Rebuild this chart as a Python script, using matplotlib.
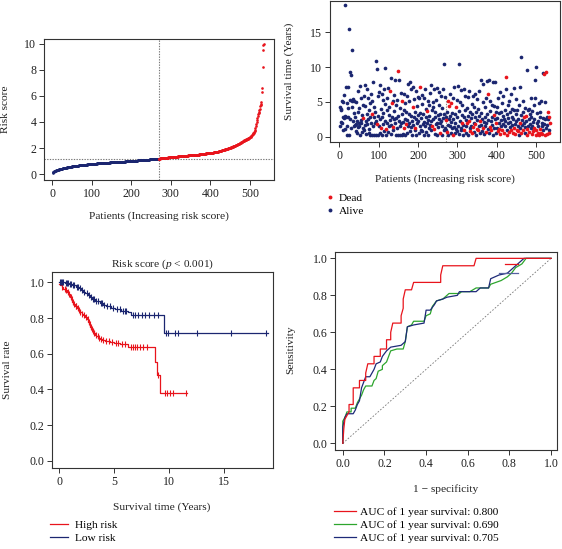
import numpy as np
import matplotlib
matplotlib.use("Agg")
import matplotlib.pyplot as plt
from matplotlib.lines import Line2D

plt.rcParams['font.family'] = ['Liberation Serif', 'DejaVu Serif']
plt.rcParams['mathtext.fontset'] = 'custom'
plt.rcParams['mathtext.rm'] = 'Liberation Serif'
plt.rcParams['mathtext.it'] = 'Liberation Serif:italic'

# ---------------- data ----------------
risk_score = [
    0.10, 0.13, 0.16, 0.18, 0.20, 0.22, 0.24, 0.25, 0.27, 0.28,
    0.29, 0.30, 0.31, 0.32, 0.33, 0.34, 0.35, 0.36, 0.37, 0.38,
    0.39, 0.40, 0.41, 0.42, 0.42, 0.43, 0.44, 0.45, 0.45, 0.46,
    0.47, 0.47, 0.48, 0.49, 0.49, 0.50, 0.51, 0.51, 0.52, 0.52,
    0.53, 0.54, 0.54, 0.55, 0.55, 0.56, 0.56, 0.57, 0.57, 0.58,
    0.58, 0.59, 0.59, 0.60, 0.60, 0.61, 0.61, 0.62, 0.62, 0.63,
    0.63, 0.63, 0.64, 0.64, 0.65, 0.65, 0.66, 0.66, 0.66, 0.67,
    0.67, 0.68, 0.68, 0.68, 0.69, 0.69, 0.70, 0.70, 0.70, 0.71,
    0.71, 0.71, 0.72, 0.72, 0.72, 0.73, 0.73, 0.73, 0.74, 0.74,
    0.74, 0.75, 0.75, 0.75, 0.76, 0.76, 0.76, 0.77, 0.77, 0.77,
    0.77, 0.78, 0.78, 0.78, 0.78, 0.79, 0.79, 0.79, 0.80, 0.80,
    0.80, 0.80, 0.81, 0.81, 0.81, 0.81, 0.82, 0.82, 0.82, 0.82,
    0.83, 0.83, 0.83, 0.83, 0.84, 0.84, 0.84, 0.84, 0.85, 0.85,
    0.85, 0.85, 0.86, 0.86, 0.86, 0.86, 0.87, 0.87, 0.87, 0.87,
    0.88, 0.88, 0.88, 0.88, 0.88, 0.89, 0.89, 0.89, 0.89, 0.90,
    0.90, 0.90, 0.90, 0.90, 0.91, 0.91, 0.91, 0.91, 0.91, 0.92,
    0.92, 0.92, 0.92, 0.92, 0.93, 0.93, 0.93, 0.93, 0.93, 0.94,
    0.94, 0.94, 0.94, 0.94, 0.95, 0.95, 0.95, 0.95, 0.95, 0.96,
    0.96, 0.96, 0.96, 0.96, 0.97, 0.97, 0.97, 0.97, 0.97, 0.98,
    0.98, 0.98, 0.98, 0.98, 0.99, 0.99, 0.99, 0.99, 0.99, 1.00,
    1.00, 1.00, 1.00, 1.01, 1.01, 1.01, 1.01, 1.02, 1.02, 1.02,
    1.02, 1.03, 1.03, 1.03, 1.03, 1.04, 1.04, 1.04, 1.04, 1.05,
    1.05, 1.05, 1.05, 1.06, 1.06, 1.06, 1.06, 1.07, 1.07, 1.07,
    1.07, 1.08, 1.08, 1.08, 1.08, 1.09, 1.09, 1.09, 1.09, 1.10,
    1.10, 1.10, 1.11, 1.11, 1.11, 1.12, 1.12, 1.12, 1.13, 1.13,
    1.13, 1.14, 1.14, 1.14, 1.15, 1.15, 1.15, 1.16, 1.16, 1.16,
    1.16, 1.17, 1.17, 1.17, 1.17, 1.18, 1.18, 1.18, 1.18, 1.19,
    1.19, 1.19, 1.20, 1.20, 1.20, 1.21, 1.21, 1.21, 1.22, 1.22,
    1.22, 1.23, 1.23, 1.23, 1.24, 1.24, 1.24, 1.25, 1.25, 1.25,
    1.26, 1.26, 1.26, 1.27, 1.27, 1.27, 1.28, 1.28, 1.28, 1.29,
    1.29, 1.29, 1.30, 1.30, 1.30, 1.31, 1.31, 1.31, 1.32, 1.32,
    1.32, 1.33, 1.33, 1.33, 1.34, 1.34, 1.34, 1.35, 1.35, 1.35,
    1.36, 1.36, 1.36, 1.37, 1.37, 1.37, 1.38, 1.38, 1.38, 1.39,
    1.39, 1.39, 1.40, 1.40, 1.40, 1.41, 1.41, 1.41, 1.42, 1.42,
    1.42, 1.42, 1.42, 1.43, 1.43, 1.43, 1.43, 1.44, 1.44, 1.44,
    1.44, 1.44, 1.45, 1.45, 1.45, 1.45, 1.46, 1.46, 1.46, 1.46,
    1.47, 1.47, 1.48, 1.48, 1.48, 1.49, 1.49, 1.49, 1.50, 1.50,
    1.50, 1.51, 1.51, 1.51, 1.52, 1.52, 1.52, 1.53, 1.53, 1.54,
    1.54, 1.54, 1.55, 1.55, 1.56, 1.56, 1.57, 1.57, 1.58, 1.58,
    1.58, 1.59, 1.59, 1.60, 1.60, 1.60, 1.61, 1.61, 1.61, 1.62,
    1.62, 1.62, 1.63, 1.63, 1.64, 1.64, 1.65, 1.66, 1.66, 1.67,
    1.67, 1.68, 1.69, 1.69, 1.70, 1.71, 1.71, 1.72, 1.73, 1.73,
    1.74, 1.75, 1.76, 1.76, 1.77, 1.78, 1.79, 1.80, 1.81, 1.82,
    1.83, 1.84, 1.85, 1.86, 1.87, 1.88, 1.89, 1.90, 1.91, 1.92,
    1.93, 1.94, 1.95, 1.96, 1.97, 1.98, 1.99, 2.00, 2.01, 2.02,
    2.03, 2.04, 2.05, 2.07, 2.08, 2.09, 2.10, 2.12, 2.13, 2.14,
    2.16, 2.17, 2.18, 2.20, 2.21, 2.23, 2.24, 2.26, 2.27, 2.29,
    2.30, 2.32, 2.34, 2.35, 2.37, 2.39, 2.41, 2.43, 2.45, 2.47,
    2.49, 2.51, 2.53, 2.55, 2.57, 2.58, 2.60, 2.62, 2.64, 2.65,
    2.67, 2.68, 2.70, 2.71, 2.72, 2.74, 2.76, 2.78, 2.80, 2.82,
    2.85, 2.88, 2.91, 2.94, 2.97, 3.00, 3.04, 3.08, 3.12, 3.17,
    3.23, 3.30, 3.40, 3.55, 3.70, 3.85, 4.00, 4.15, 4.30, 4.45,
    4.60, 4.70, 4.80, 4.90, 5.00, 5.20, 5.30, 5.40, 5.50, 6.30,
    6.60, 8.20, 9.50, 9.95, 10.00,
]

survival_years = [
    4.2, 1.6, 3.9, 2.1, 4.0, 5.1, 1.9, 2.8, 5.0, 0.9, 6.0, 2.7, 1.1, 3.0, 18.9, 2.9, 7.2, 4.9, 0.2, 1.5,
    2.9, 7.1, 4.1, 0.2, 15.5, 9.3, 2.6, 5.3, 1.3, 8.8, 5.2, 4.3, 12.5, 2.2, 5.4, 1.5, 3.4, 5.2, 1.7, 2.9,
    0.8, 1.8, 5.0, 2.3, 0.5, 6.5, 1.4, 3.6, 2.0, 1.6, 4.1, 7.3, 0.3, 2.4, 1.9, 5.6, 3.1, 0.7, 4.6, 1.2,
    2.7, 5.8, 0.9, 4.4, 1.7, 7.4, 2.2, 0.4, 3.3, 6.8, 1.8, 2.5, 5.5, 0.6, 3.8, 1.1, 4.8, 2.9, 0.3, 6.2,
    2.0, 3.2, 0.2, 5.1, 1.6, 7.8, 2.8, 0.3, 4.3, 1.9, 3.6, 10.9, 0.2, 2.3, 9.7, 1.8, 5.8, 0.3, 3.0, 6.4,
    1.5, 7.4, 2.6, 0.5, 4.0, 1.2, 6.2, 2.9, 0.3, 5.3, 3.4, 1.8, 6.9, 0.8, 9.9, 2.2, 4.7, 1.1, 0.3, 3.9,
    5.6, 2.0, 7.0, 0.7, 4.2, 1.5, 3.1, 6.5, 2.4, 0.4, 8.5, 1.7, 4.9, 2.8, 0.9, 5.1, 1.4, 3.7, 2.5, 6.0,
    1.9, 8.2, 0.3, 4.6, 2.7, 1.2, 5.3, 9.5, 3.0, 0.3, 8.1, 2.3, 1.6, 4.1, 0.3, 6.3, 1.9, 3.3, 0.3, 5.2,
    2.1, 0.4, 3.8, 6.1, 1.3, 2.6, 4.9, 0.3, 3.5, 1.8, 5.9, 2.4, 0.6, 7.6, 1.6, 3.2, 5.1, 2.0, 0.8, 7.9,
    3.0, 1.4, 6.8, 2.2, 0.3, 4.3, 7.2, 1.7, 2.9, 5.4, 0.9, 3.6, 1.2, 6.6, 2.5, 0.2, 4.4, 1.9, 3.1, 5.7,
    2.3, 0.5, 5.6, 1.5, 7.1, 3.4, 1.0, 2.7, 6.0, 0.8, 4.7, 1.8, 3.2, 5.5, 2.1, 0.3, 6.9, 1.6, 2.8, 4.0,
    0.7, 3.7, 1.9, 5.2, 2.4, 0.2, 4.6, 1.3, 3.0, 6.3, 1.7, 2.2, 7.5, 0.9, 3.9, 1.5, 5.0, 2.6, 4.2, 1.1,
    6.8, 2.9, 0.4, 3.5, 1.8, 5.3, 2.0, 7.0, 0.3, 3.1, 1.4, 4.5, 2.5, 6.4, 0.6, 1.9, 3.3, 5.8, 2.2, 0.3,
    4.1, 1.6, 2.7, 6.8, 10.5, 0.9, 3.2, 1.3, 5.7, 2.4, 1.0, 2.8, 0.7, 3.6, 1.7, 5.1, 0.3, 2.5, 4.4, 1.5,
    3.0, 6.2, 0.5, 2.1, 4.8, 1.2, 3.4, 0.2, 5.6, 2.6, 1.4, 7.1, 0.6, 3.3, 2.0, 4.2, 1.1, 5.3, 0.8, 2.9,
    7.3, 1.6, 3.7, 0.4, 10.4, 2.3, 5.0, 1.3, 6.7, 0.9, 3.1, 2.0, 4.5, 1.7, 0.3, 6.8, 2.8, 1.0, 3.9, 5.8,
    1.5, 2.4, 0.6, 4.1, 1.9, 5.7, 3.0, 0.3, 2.2, 6.5, 1.2, 3.5, 0.8, 2.7, 1.6, 4.7, 0.5, 3.2, 1.4, 5.9,
    2.0, 0.7, 4.3, 1.8, 6.1, 2.9, 0.3, 3.6, 1.1, 5.4, 2.4, 0.9, 4.0, 1.5, 3.0, 6.6, 0.6, 2.3, 1.7, 8.1,
    3.4, 0.8, 2.6, 5.0, 1.3, 7.6, 2.1, 0.4, 4.2, 1.6, 2.9, 0.7, 5.6, 1.9, 8.0, 3.3, 6.2, 1.1, 2.4, 8.2,
    0.5, 3.7, 1.4, 5.2, 2.2, 0.9, 4.6, 1.7, 2.8, 7.9, 0.3, 3.1, 1.2, 4.4, 2.5, 7.8, 0.6, 1.9, 3.6, 4.2,
    1.3, 2.7, 0.8, 5.5, 1.1, 3.4, 2.0, 6.4, 0.4, 3.5, 1.6, 2.4, 4.8, 0.9, 3.0, 1.8, 5.9, 2.6, 0.5, 3.8,
    1.5, 2.3, 6.8, 8.6, 1.0, 3.2, 0.3, 4.5, 1.9, 2.7, 0.7, 5.1, 1.4, 3.6, 2.1, 0.9, 6.1, 1.7, 2.9, 4.0,
    0.6, 2.5, 1.2, 3.9, 7.0, 1.8, 0.4, 3.3, 2.2, 5.4, 1.0, 3.8, 0.8, 2.6, 1.5, 4.6, 0.3, 2.0, 7.1, 1.3,
    3.1, 0.5, 11.4, 2.4, 1.7, 5.2, 0.9, 3.5, 1.9, 2.8, 0.6, 4.1, 1.4, 3.0, 2.2, 1.1, 9.6, 0.3, 3.9, 1.6,
    2.5, 4.0, 0.7, 1.8, 3.3, 5.6, 1.2, 2.9, 0.4, 1.5, 3.7, 2.1, 0.8, 4.5, 1.3, 2.6, 5.5, 8.2, 1.0, 10.0,
    0.3, 1.9, 3.4, 0.5, 2.3, 1.6, 4.8, 0.3, 2.8, 1.1, 3.6, 0.6, 5.1, 2.0, 0.4, 1.5, 9.2, 2.7, 0.9, 9.0,
    1.8, 0.3, 2.5, 5.0, 9.3, 1.3, 2.9, 0.4, 1.7, 3.5, 2.6, 0.5, 2.9, 1.0, 2.0,
]

dead_patients = [
    61, 82, 96, 106, 118, 128, 133, 137, 148, 160, 165, 170, 186, 193, 205, 222, 236, 240, 255, 270,
    273, 276, 279, 285, 288, 296, 312, 318, 325, 329, 333, 337, 339, 344, 349, 352, 358, 365, 372, 377,
    383, 386, 392, 398, 403, 405, 409, 414, 419, 424, 427, 431, 436, 441, 443, 447, 451, 453, 458, 462,
    467, 470, 474, 476, 478, 483, 489, 493, 495, 499, 501, 504, 508, 510, 512, 515, 520, 522, 525, 528,
    530, 532, 533, 535,
]

cutoff_patient = 270
cutoff_score = 1.18

# Kaplan-Meier step data (time, survival after step)
km_high_time = [0, 0.1, 0.25, 0.4, 0.55, 0.7, 0.85, 1.0, 1.1, 1.2, 1.3, 1.45, 1.6, 1.75, 1.9, 2.05,
                2.2, 2.35, 2.5, 2.65, 2.75, 2.85, 2.95, 3.05, 3.15, 3.25, 3.4, 3.55, 3.7, 3.9, 4.2,
                4.6, 5.0, 5.5, 6.3, 8.7, 8.9, 9.2]
km_high_surv = [0.990, 0.985, 0.975, 0.965, 0.955, 0.945, 0.935, 0.920, 0.905, 0.890, 0.880, 0.870,
                0.855, 0.845, 0.835, 0.825, 0.815, 0.805, 0.795, 0.780, 0.765, 0.750, 0.738, 0.726,
                0.714, 0.705, 0.697, 0.690, 0.684, 0.678, 0.672, 0.666, 0.660, 0.654, 0.638, 0.555,
                0.478, 0.378]
km_high_end = 11.6
km_high_censor = [0.3, 0.5, 0.6, 0.8, 0.9, 1.05, 1.15, 1.25, 1.35, 1.5, 1.55, 1.7, 1.8, 1.95, 2.1,
                  2.3, 2.45, 2.6, 2.7, 2.8, 2.9, 3.0, 3.1, 3.2, 3.35, 3.5, 3.6, 3.8, 4.0, 4.3, 4.5,
                  4.8, 5.2, 5.4, 5.7, 6.0, 6.5, 6.7, 6.9, 7.1, 7.4, 7.6, 8.0, 9.0, 9.6, 9.8, 10.1,
                  10.4, 11.5]

km_low_time = [0, 0.5, 0.9, 1.2, 1.5, 1.8, 2.0, 2.2, 2.4, 2.6, 2.8, 3.0, 3.3, 3.7, 4.0, 4.3, 4.7,
               5.1, 5.6, 6.3, 6.5, 9.5]
km_low_surv = [1.0, 0.996, 0.99, 0.983, 0.976, 0.968, 0.958, 0.948, 0.938, 0.928, 0.918, 0.906,
               0.896, 0.886, 0.875, 0.865, 0.858, 0.848, 0.842, 0.835, 0.818, 0.714]
km_low_end = 19.0
km_low_censor = [0.1, 0.2, 0.3, 0.4, 0.6, 0.7, 0.8, 1.0, 1.1, 1.3, 1.4, 1.6, 1.7, 1.9, 2.1, 2.3, 2.5,
                 2.7, 2.9, 3.1, 3.2, 3.4, 3.5, 3.8, 3.9, 4.1, 4.4, 4.6, 4.9, 5.3, 5.5, 5.8, 6.0, 6.1,
                 6.7, 6.9, 7.2, 7.5, 7.8, 8.2, 8.6, 9.0, 9.7, 9.9, 10.5, 10.8, 12.5, 15.6, 18.8]

# ROC curves
roc_red_fpr = [0, 0.005, 0.01, 0.03, 0.03, 0.05, 0.05, 0.08, 0.08, 0.11, 0.11, 0.12, 0.15, 0.15,
               0.18, 0.18, 0.21, 0.21, 0.23, 0.23, 0.24, 0.28, 0.28, 0.29, 0.29, 0.30, 0.33, 0.34,
               0.47, 0.47, 0.48, 0.63, 0.64, 1.0]
roc_red_tpr = [0, 0.08, 0.13, 0.17, 0.21, 0.21, 0.30, 0.30, 0.34, 0.34, 0.38, 0.43, 0.43, 0.47,
               0.47, 0.51, 0.51, 0.56, 0.56, 0.60, 0.65, 0.65, 0.69, 0.73, 0.78, 0.83, 0.83, 0.87,
               0.87, 0.91, 0.96, 0.96, 1.0, 1.0]
roc_green_fpr = [0, 0.0, 0.01, 0.02, 0.04, 0.04, 0.06, 0.07, 0.09, 0.10, 0.11, 0.14, 0.15, 0.16,
                 0.17, 0.19, 0.19, 0.21, 0.22, 0.23, 0.26, 0.29, 0.30, 0.31, 0.33, 0.34, 0.39, 0.40,
                 0.42, 0.43, 0.45, 0.48, 0.51, 0.56, 0.57, 0.61, 0.64, 0.70, 0.71, 0.76, 0.79, 0.81,
                 0.83, 0.86, 0.88, 1.0]
roc_green_tpr = [0, 0.12, 0.14, 0.17, 0.17, 0.19, 0.19, 0.22, 0.26, 0.29, 0.31, 0.31, 0.34, 0.35,
                 0.39, 0.40, 0.42, 0.44, 0.47, 0.50, 0.51, 0.51, 0.55, 0.63, 0.64, 0.66, 0.66, 0.69,
                 0.70, 0.74, 0.77, 0.78, 0.81, 0.81, 0.82, 0.82, 0.84, 0.84, 0.86, 0.88, 0.90, 0.92,
                 0.95, 0.97, 1.0, 1.0]
roc_blue_fpr = [0, 0, 0.01, 0.02, 0.05, 0.06, 0.07, 0.08, 0.09, 0.10, 0.11, 0.13, 0.14, 0.15, 0.16,
                0.18, 0.19, 0.21, 0.23, 0.28, 0.30, 0.31, 0.34, 0.39, 0.40, 0.42, 0.44, 0.45, 0.48,
                0.50, 0.55, 0.56, 0.64, 0.66, 0.70, 0.71, 0.75, 0.79, 0.82, 0.85, 0.87, 1.0]
roc_blue_tpr = [0, 0.09, 0.14, 0.16, 0.16, 0.18, 0.21, 0.23, 0.30, 0.33, 0.36, 0.36, 0.38, 0.40,
                0.43, 0.44, 0.47, 0.50, 0.52, 0.53, 0.55, 0.63, 0.64, 0.65, 0.72, 0.72, 0.75, 0.77,
                0.78, 0.79, 0.80, 0.82, 0.82, 0.84, 0.84, 0.89, 0.91, 0.92, 0.95, 0.98, 1.0, 1.0]
roc_red_stub_fpr = [0.78, 0.84]
roc_red_stub_tpr = [0.97, 0.97]
roc_blue_stub_fpr = [0.75, 0.84]
roc_blue_stub_tpr = [0.92, 0.92]

roc_labels = ["AUC of 1 year survival: 0.800",
              "AUC of 1 year survival: 0.690",
              "AUC of 1 year survival: 0.705"]
km_labels = ["High risk", "Low risk"]
status_labels = ["Dead", "Alive"]

# ---------------- style ----------------
RED = '#E8141C'
NAVY = '#1B2670'
GREEN = '#2DA52D'
ROC_BLUE = '#1E2A78'
FS = 8.2      # labels
TFS = 8.6     # tick labels

W, H = 562, 549
fig = plt.figure(figsize=(W / 100, H / 100), dpi=100)


def px_axes(l, t, r, b):
    return fig.add_axes([l / W, 1 - b / H, (r - l) / W, (b - t) / H])


def style(ax):
    for s in ax.spines.values():
        s.set_linewidth(0.8)
        s.set_color('#333333')
    ax.tick_params(direction='out', length=3.5, width=0.7, labelsize=TFS, pad=2,
                   colors='#333333', labelcolor='#222222')


def ftext(x, y, s, **kw):
    kw.setdefault('fontsize', FS)
    kw.setdefault('color', '#222222')
    fig.text(x / W, 1 - y / H, s, **kw)


# ---------------- panel 1: risk score ----------------
ax1 = px_axes(44, 39, 274, 180)
style(ax1)
rs = np.array(risk_score)
pat = np.arange(1, len(rs) + 1)
low = pat <= cutoff_patient - 2
ax1.scatter(pat[low], rs[low], s=3.6, color=NAVY, linewidths=0, zorder=3)
ax1.scatter(pat[~low], rs[~low], s=3.6, color=RED, linewidths=0, zorder=3)
ax1.axvline(cutoff_patient, color='#777777', lw=0.8, ls=(0, (1.2, 1.2)), zorder=2)
ax1.axhline(cutoff_score, color='#777777', lw=0.8, ls=(0, (1.2, 1.2)), zorder=2)
ax1.set_xlim(-21, 561)
ax1.set_ylim(-0.46, 10.38)
ax1.set_xticks([0, 100, 200, 300, 400, 500])
ax1.set_yticks([0, 2, 4, 6, 8, 10])
ftext(159, 216, "Patients (Increasing risk score)", ha='center', va='center')
ftext(6, 109, "Risk score", ha='center', va='center', rotation=90)

# ---------------- panel 2: survival status ----------------
ax2 = px_axes(330, 1, 560, 142)
style(ax2)
sv = np.array(survival_years)
pat2 = np.arange(1, len(sv) + 1)
dead = np.isin(pat2, dead_patients)
ax2.plot([cutoff_patient, cutoff_patient], [-0.76, 5.8], color='#888888', lw=0.8,
         ls=(0, (1.2, 1.2)), zorder=1)
ax2.scatter(pat2[~dead], sv[~dead], s=7, color=NAVY, linewidths=0, zorder=3)
ax2.scatter(pat2[dead], sv[dead], s=7, color=RED, linewidths=0, zorder=4)
ax2.set_xlim(-24, 561)
ax2.set_ylim(-0.76, 19.5)
ax2.set_xticks([0, 100, 200, 300, 400, 500])
ax2.set_yticks([0, 5, 10, 15])
ftext(445, 179, "Patients (Increasing risk score)", ha='center', va='center')
ftext(289, 71, "Survival time (Years)", ha='center', va='center', rotation=90)
h2 = [Line2D([], [], ls='none', marker='o', ms=2.8, color=RED, mew=0),
      Line2D([], [], ls='none', marker='o', ms=2.8, color=NAVY, mew=0)]
fig.legend(h2, status_labels, loc='upper left', bbox_to_anchor=(325 / W, 1 - 193 / H),
           frameon=False, fontsize=FS, handlelength=0.8, handletextpad=0.4,
           labelspacing=0.3, borderpad=0, borderaxespad=0)

# ---------------- panel 3: Kaplan-Meier ----------------
ax3 = px_axes(52, 271.7, 273, 468)
style(ax3)


def km_draw(ax, t, s, end, cens, color):
    tt = list(t) + [end]
    ss = list(s) + [s[-1]]
    ax.step(tt, ss, where='post', color=color, lw=0.9, zorder=3)
    idx = np.searchsorted(np.array(t), np.array(cens), side='right') - 1
    cy = np.array(s)[idx]
    ax.plot(cens, cy, ls='none', marker='|', ms=4.5, mew=0.8, color=color, zorder=4)


km_draw(ax3, km_high_time, km_high_surv, km_high_end, km_high_censor, RED)
km_draw(ax3, km_low_time, km_low_surv, km_low_end, km_low_censor, NAVY)
ax3.set_xlim(-0.64, 19.45)
ax3.set_ylim(-0.041, 1.06)
ax3.set_xticks([0, 5, 10, 15])
ax3.set_yticks([0.0, 0.2, 0.4, 0.6, 0.8, 1.0])
ax3.set_yticklabels(["0.0", "0.2", "0.4", "0.6", "0.8", "1.0"])
ftext(162, 264.5, r"Risk score ($\mathit{p}$ < 0.001)", ha='center', va='center')
ftext(162, 507, "Survival time (Years)", ha='center', va='center')
ftext(8, 370, "Survival rate", ha='center', va='center', rotation=90)
h3 = [Line2D([], [], color=RED, lw=0.9), Line2D([], [], color=NAVY, lw=0.9)]
fig.legend(h3, km_labels, loc='upper left', bbox_to_anchor=(50 / W, 1 - 520 / H),
           frameon=False, fontsize=FS, handlelength=1.6, handletextpad=0.6,
           labelspacing=0.3, borderpad=0, borderaxespad=0)

# ---------------- panel 4: ROC ----------------
ax4 = px_axes(335.3, 251.7, 556.7, 450)
style(ax4)
ax4.plot([0, 1], [0, 1], color='#777777', lw=0.6, ls=(0, (2, 2)), zorder=1)
ax4.plot(roc_red_fpr, roc_red_tpr, color=RED, lw=0.9, zorder=4)
ax4.plot(roc_green_fpr, roc_green_tpr, color=GREEN, lw=0.9, zorder=3)
ax4.plot(roc_blue_fpr, roc_blue_tpr, color=ROC_BLUE, lw=0.9, zorder=3)
ax4.plot(roc_red_stub_fpr, roc_red_stub_tpr, color=RED, lw=0.9, zorder=4)
ax4.plot(roc_blue_stub_fpr, roc_blue_stub_tpr, color='#5560A0', lw=0.9, zorder=3)
ax4.set_xlim(-0.036, 1.027)
ax4.set_ylim(-0.036, 1.036)
ticks = [0.0, 0.2, 0.4, 0.6, 0.8, 1.0]
tl = ["0.0", "0.2", "0.4", "0.6", "0.8", "1.0"]
ax4.set_xticks(ticks)
ax4.set_xticklabels(tl)
ax4.set_yticks(ticks)
ax4.set_yticklabels(tl)
ftext(446, 489, "1 \u2212 specificity", ha='center', va='center')
ftext(291, 350, "Sensitivity", ha='center', va='center', rotation=90)
h4 = [Line2D([], [], color=RED, lw=0.9), Line2D([], [], color=GREEN, lw=0.9),
      Line2D([], [], color=ROC_BLUE, lw=0.9)]
fig.legend(h4, roc_labels, loc='upper left', bbox_to_anchor=(334 / W, 1 - 507 / H),
           frameon=False, fontsize=FS, handlelength=1.9, handletextpad=0.4,
           labelspacing=0.25, borderpad=0, borderaxespad=0)

fig.savefig("out.png", dpi=100)
